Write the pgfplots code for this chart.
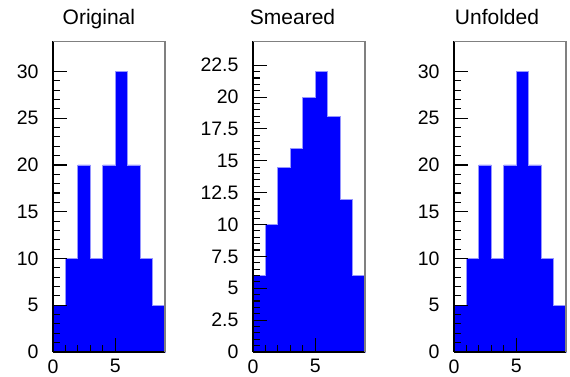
\documentclass[border=0pt]{standalone}
\usepackage{pgfplots}
\pgfplotsset{compat=1.18}
\usepackage{fontspec}
\setmainfont{Liberation Sans}
\definecolor{histfill}{RGB}{0,0,255}
\definecolor{histline}{RGB}{150,150,255}
\definecolor{framegray}{RGB}{128,128,128}
\pgfplotsset{
  rootpad/.style={
    scale only axis, width=112pt, height=311pt,
    anchor=south west,
    xmin=0, xmax=9,
    clip=false,
    axis on top,
    axis x line*=bottom, axis y line*=left,
    axis line style={black, line width=1.2pt, -},
    tick align=inside,
    major tick length=14pt, minor tick length=7pt,
    every tick/.style={black, line width=1.1pt},
    xtick={0,5}, minor x tick num=4,
    minor y tick num=4,
    tick label style={font=\fontsize{19.5}{19.5}\selectfont},
    /pgf/number format/assume math mode=true,
    /pgf/number format/fixed,
    yticklabel style={xshift=-11pt},
    xticklabel style={yshift=-4pt},
    title style={anchor=base, font=\fontsize{21}{21}\selectfont},
    after end axis/.code={
      \draw[framegray, line width=0.8pt] (rel axis cs:0,1) -- (rel axis cs:1,1);
      \draw[framegray, line width=2pt] (rel axis cs:1,1) -- (rel axis cs:1,0);
    },
  },
  histo/.style={const plot, fill=histfill, draw=histline, line width=0.8pt},
}
\begin{document}
\begin{tikzpicture}
\useasboundingbox (0pt,0pt) rectangle (570pt,377pt);
% Original
\begin{axis}[rootpad, at={(53pt,25pt)}, ymin=0, ymax=33.26, ytick={0,5,...,30},
  title={Original}, title style={at={(axis description cs:0.41,1.034)}}]
\addplot[histo] coordinates {(0,5) (1,10) (2,20) (3,10) (4,20) (5,30) (6,20) (7,10) (8,5) (9,5)} \closedcycle;
\end{axis}
% Smeared
\begin{axis}[rootpad, at={(253pt,25pt)}, ymin=0, ymax=24.4, ytick={0,2.5,...,22.5},
  title={Smeared}, title style={at={(axis description cs:0.353,1.034)}}]
\addplot[histo] coordinates {(0,6) (1,10) (2,14.5) (3,16) (4,20) (5,22) (6,18.5) (7,12) (8,6) (9,6)} \closedcycle;
\end{axis}
% Unfolded
\begin{axis}[rootpad, at={(454pt,25pt)}, ymin=0, ymax=33.26, ytick={0,5,...,30},
  title={Unfolded}, title style={at={(axis description cs:0.384,1.034)}}]
\addplot[histo] coordinates {(0,5) (1,10) (2,20) (3,10) (4,20) (5,30) (6,20) (7,10) (8,5) (9,5)} \closedcycle;
\end{axis}
\end{tikzpicture}
\end{document}
